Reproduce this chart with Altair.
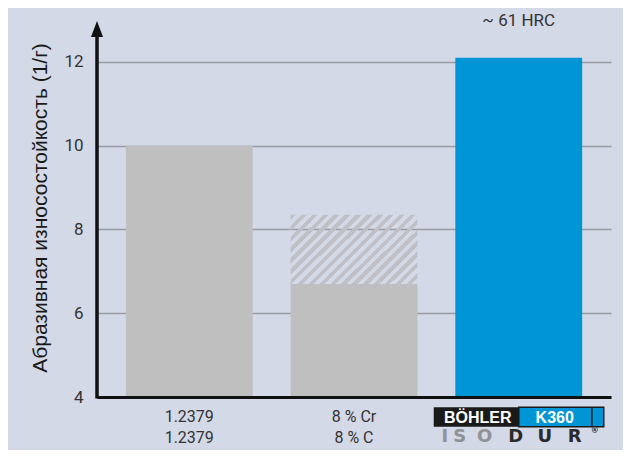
import altair as alt
import pandas as pd

# ---------------- data ----------------
categories = ["1.2379", "8 % Cr", "K360"]
label_line1 = ["1.2379", "8 % Cr", ""]
label_line2 = ["1.2379", "8 % C", ""]
solid_values = [10.0, 6.7, 12.1]
hatch_tops = [None, 8.35, None]
bar_colors = ["#bfbfbf", "#bfbfbf", "#0096d6"]
notes = ["", "", "~ 61 HRC"]
logo_flags = [False, False, True]
y_ticks = [4, 6, 8, 10, 12]
y_title = "Абразивная износостойкость (1/г)"

df = pd.DataFrame({
    "cat": categories,
    "solid": solid_values,
    "hatch": hatch_tops,
    "color": bar_colors,
    "note": notes,
    "logo": logo_flags,
})

# ---------------- layout / style ----------------
W, H = 514, 377
BG = "#d3d9e6"
FONT = "Roboto, sans-serif"
BLUE = "#0096d6"

label_expr = "['', '']"
for c, l1, l2 in reversed(list(zip(categories, label_line1, label_line2))):
    label_expr = f"datum.value == '{c}' ? ['{l1}', '{l2}'] : {label_expr}"

x_enc = alt.X(
    "cat:N",
    sort=categories,
    scale=alt.Scale(domain=categories, paddingInner=0.23, paddingOuter=0.175),
    axis=alt.Axis(
        title=None, labelAngle=0, labelExpr=label_expr, ticks=False,
        labelPadding=11, labelFont=FONT, labelFontSize=16, labelColor="#333333",
        labelLineHeight=21, domainColor="#111111", domainWidth=3, zindex=1,
    ),
)

y_scale = alt.Scale(domain=[4, 13], zero=False, nice=False)
y_axis = alt.Axis(
    title=y_title, values=y_ticks, ticks=False, domain=False, grid=True,
    gridColor="#989ba2", gridWidth=1.5, labelPadding=14, labelFont=FONT,
    labelFontSize=17, labelColor="#333333", titleFont="Liberation Sans",
    titleFontSize=21, titleFontWeight="normal", titleColor="#1a1a1a",
    titleX=-57, titleY=H / 2 - 1, titleAngle=270, titleBaseline="middle",
    titleAlign="center",
)

base = alt.Chart(df)

bars = base.mark_bar().encode(
    x=x_enc,
    y=alt.Y("solid:Q", scale=y_scale, axis=y_axis),
    y2=alt.datum(4),
    color=alt.Color("color:N", scale=None),
)

# hatch via striped linear gradient
n_stripes = 18
hatch_gray = "#bfc1c6"
clear = "rgba(0,0,0,0)"
stops = []
for i in range(n_stripes):
    a = i / n_stripes
    b = (i + 0.5) / n_stripes
    c = (i + 1) / n_stripes
    stops += [
        alt.GradientStop(color=hatch_gray, offset=a),
        alt.GradientStop(color=hatch_gray, offset=b),
        alt.GradientStop(color=clear, offset=b),
        alt.GradientStop(color=clear, offset=c),
    ]
hatch_fill = alt.LinearGradient(
    gradient="linear", stops=stops, x1=0, y1=0, x2=1.19, y2=0.652
)

hatch = base.transform_filter("isValid(datum.hatch)").mark_bar(
    fill=hatch_fill, strokeWidth=0
).encode(
    x=alt.X("cat:N", sort=categories),
    y=alt.Y("solid:Q", scale=y_scale),
    y2="hatch:Q",
)

note = base.mark_text(
    font=FONT, fontSize=17, color="#333333", baseline="middle"
).encode(x=alt.X("cat:N", sort=categories), y=alt.value(1), text="note:N")

# y-axis line with arrow
marker_df = pd.DataFrame({"k": [0]})
axis_line = alt.Chart(marker_df).mark_rule(color="#111111", strokeWidth=3.5).encode(
    x=alt.value(0), y=alt.value(12), y2=alt.value(H + 1.5)
)
arrow = alt.Chart(marker_df).mark_point(
    shape="M0,-1L0.75,1L-0.75,1Z", size=256, filled=True, color="#111111",
    opacity=1, strokeWidth=0,
).encode(x=alt.value(0), y=alt.value(9))

# logo under the third bar
logo_data = base.transform_filter("datum.logo")
xl = alt.X("cat:N", sort=categories)
LOGO_Y = 397
ISO_Y = 417
logo_black = logo_data.mark_point(
    shape="M-1,-0.115L0,-0.115L0,0.115L-1,0.115Z", size=28900, filled=True,
    color="#1a1a1a", opacity=1, strokeWidth=0,
).encode(x=xl, y=alt.value(LOGO_Y))
logo_blue = logo_data.mark_point(
    shape="M0,-0.115L1,-0.115L1,0.115L0,0.115Z M0.86,-0.115L0.86,0.115", size=28900,
    filled=True, fill=BLUE, stroke="#1a1a1a", strokeWidth=1.5, opacity=1,
).encode(x=xl, y=alt.value(LOGO_Y))
logo_t1 = logo_data.mark_text(
    text="BÖHLER", font="Liberation Sans", fontSize=16, fontWeight="bold",
    color="white", dx=-41, baseline="middle",
).encode(x=xl, y=alt.value(LOGO_Y + 1))
logo_t2 = logo_data.mark_text(
    text="K360", font="Liberation Sans", fontSize=16, fontWeight="bold",
    color="white", dx=36, baseline="middle",
).encode(x=xl, y=alt.value(LOGO_Y + 1))

iso_letters = [("I", -74, "#8f9297"), ("S", -59, "#8f9297"), ("O", -34, "#8f9297"),
               ("D", -3, "#2a2a2a"), ("U", 26, "#2a2a2a"), ("R", 56, "#2a2a2a")]
iso_layers = []
for ch, dx, col in iso_letters:
    iso_layers.append(
        logo_data.mark_text(
            text=ch, font="DejaVu Sans", fontSize=18, fontWeight="bold",
            color=col, dx=dx, baseline="middle",
        ).encode(x=xl, y=alt.value(ISO_Y))
    )
reg = logo_data.mark_text(
    text="®", font="DejaVu Sans", fontSize=8, fontWeight="bold",
    color="#2a2a2a", dx=76, baseline="middle",
).encode(x=xl, y=alt.value(ISO_Y - 6))

chart = alt.layer(
    bars, hatch, note, axis_line, arrow,
    logo_black, logo_blue, logo_t1, logo_t2, *iso_layers, reg,
).properties(
    width=W, height=H, background=BG,
    padding={"left": 89, "top": 12, "right": 12, "bottom": 53},
    autosize=alt.AutoSizeParams(type="none"),
).configure_view(stroke=None)

chart.save("out.html", embed_options={"renderer": "svg", "actions": False})
